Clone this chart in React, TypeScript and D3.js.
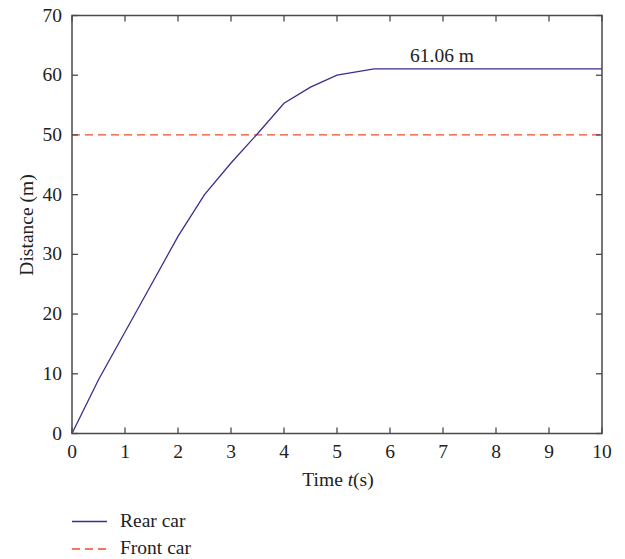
import * as React from 'react';
import * as d3 from 'd3';

// Rear car distance over time
const times = [0, 0.5, 1, 1.5, 2, 2.5, 3, 3.5, 4, 4.5, 5, 5.7, 10];
const rearCar = [0, 9, 17, 25, 33, 40, 45.3, 50.2, 55.3, 58, 60, 61.06, 61.06];
const frontCar = [50, 50];
const frontTimes = [0, 10];
const xTicks = [0, 1, 2, 3, 4, 5, 6, 7, 8, 9, 10];
const yTicks = [0, 10, 20, 30, 40, 50, 60, 70];
const legendLabels = ['Rear car', 'Front car'];

const W = 625;
const H = 559;
const left = 72;
const right = 602;
const top = 15.5;
const bottom = 433.5;
const font = '"Liberation Serif", "DejaVu Serif", serif';
const fs = 19.5;
const axisColor = '#4a4a4a';
const rearColor = '#3b2f8e';
const frontColor = '#ee4b2b';

export default function App() {
  const x = d3.scaleLinear().domain([0, 10]).range([left, right]);
  const y = d3.scaleLinear().domain([0, 70]).range([bottom, top]);

  const line = d3.line<[number, number]>()
    .x(d => x(d[0]))
    .y(d => y(d[1]));

  const rearPath = line(times.map((t, i) => [t, rearCar[i]] as [number, number]))!;
  const frontPath = line(frontTimes.map((t, i) => [t, frontCar[i]] as [number, number]))!;

  const tickLen = 6;

  return (
    <svg width={W} height={H} style={{ position: 'absolute', left: 0, top: 0 }}>
      <rect width={W} height={H} fill="#fff" />
      <path d={frontPath} fill="none" stroke={frontColor} strokeWidth={1.3} strokeDasharray="8,5" />
      <path d={rearPath} fill="none" stroke={rearColor} strokeWidth={1.3} />

      {/* frame */}
      <rect x={left} y={top} width={right - left} height={bottom - top}
        fill="none" stroke={axisColor} strokeWidth={1.5} />

      {xTicks.map(t => (
        <g key={'x' + t}>
          <line x1={x(t)} x2={x(t)} y1={bottom} y2={bottom - tickLen} stroke={axisColor} strokeWidth={1.3} />
          <line x1={x(t)} x2={x(t)} y1={top} y2={top + tickLen} stroke={axisColor} strokeWidth={1.3} />
          <text x={x(t)} y={458} textAnchor="middle" fontFamily={font} fontSize={fs} fill="#222">{t}</text>
        </g>
      ))}
      {yTicks.map(v => (
        <g key={'y' + v}>
          <line x1={left} x2={left + tickLen} y1={y(v)} y2={y(v)} stroke={axisColor} strokeWidth={1.3} />
          <line x1={right} x2={right - tickLen} y1={y(v)} y2={y(v)} stroke={axisColor} strokeWidth={1.3} />
          <text x={left - 10} y={y(v) + 6} textAnchor="end" fontFamily={font} fontSize={fs} fill="#222">{v}</text>
        </g>
      ))}

      <text x={442} y={62} textAnchor="middle" fontFamily={font} fontSize={fs} fill="#222">61.06 m</text>

      <text transform="translate(33, 225) rotate(-90)" textAnchor="middle"
        fontFamily={font} fontSize={fs} fill="#222">Distance (m)</text>
      <text x={338} y={486} textAnchor="middle" fontFamily={font} fontSize={fs} fill="#222">
        Time <tspan fontStyle="italic">t</tspan>(s)
      </text>

      {legendLabels.map((label, i) => (
        <g key={label} transform={`translate(72, ${521.5 + i * 27.5})`}>
          <line x1={0} x2={35} y1={0} y2={0}
            stroke={i === 0 ? rearColor : frontColor} strokeWidth={1.3}
            strokeDasharray={i === 0 ? undefined : '8,5'} />
          <text x={48} y={5} fontFamily={font} fontSize={fs} fill="#222">{label}</text>
        </g>
      ))}
    </svg>
  );
}
